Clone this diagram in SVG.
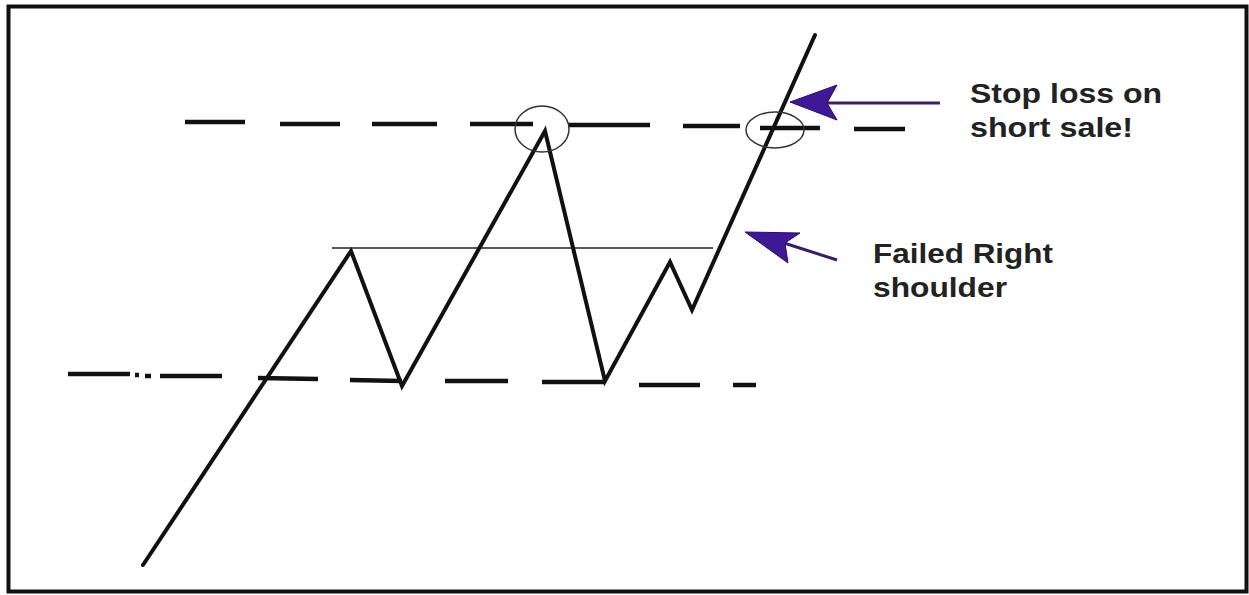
<svg xmlns="http://www.w3.org/2000/svg" width="1249" height="595" viewBox="0 0 1249 595">
<style>
.price{fill:none;stroke:#111;stroke-width:4;stroke-linejoin:miter;stroke-linecap:round}
.dash{stroke:#111;stroke-width:4.5;stroke-linecap:butt}
.thin{stroke:#222;stroke-width:1.5}
.circ{fill:none;stroke:#333;stroke-width:1.5}
.lbl{font-family:"Liberation Sans",Arial,sans-serif;font-weight:bold;font-size:28px;fill:#222}
.head{fill:#3f1896;stroke:#2a1060;stroke-width:1}
.shaft{stroke:#3a1f66;stroke-width:3}
</style>
<rect x="8.5" y="6.5" width="1238" height="585" fill="#fff" stroke="#111" stroke-width="4"/>
<g id="support-line">
<line class="dash" x1="68" y1="374" x2="130" y2="374"/>
<line class="dash" x1="135" y1="375" x2="139" y2="375"/>
<line class="dash" x1="145" y1="376" x2="151" y2="376"/>
<line class="dash" x1="160" y1="376" x2="222" y2="376"/>
<line class="dash" x1="258" y1="378" x2="318" y2="379"/>
<line class="dash" x1="350" y1="380" x2="402" y2="381"/>
<line class="dash" x1="445" y1="381" x2="508" y2="381"/>
<line class="dash" x1="542" y1="382" x2="605" y2="382"/>
<line class="dash" x1="639" y1="385" x2="700" y2="385"/>
<line class="dash" x1="733" y1="385" x2="756" y2="385"/>
</g>
<g id="resistance-line">
<line class="dash" x1="185" y1="122" x2="245" y2="122"/>
<line class="dash" x1="280" y1="124" x2="340" y2="124"/>
<line class="dash" x1="372" y1="124" x2="437" y2="124"/>
<line class="dash" x1="470" y1="124" x2="533" y2="124"/>
<line class="dash" x1="568" y1="125" x2="650" y2="125"/>
<line class="dash" x1="683" y1="126" x2="740" y2="126"/>
<line class="dash" x1="760" y1="128" x2="820" y2="128"/>
<line class="dash" x1="854" y1="129" x2="905" y2="129"/>
</g>
<g id="neckline">
<line class="thin" x1="332" y1="248" x2="713" y2="248"/>
</g>
<g id="price">
<polyline class="price" points="143,565 351,251 402,386 545,131 605,381 670,262 692,310 815,35"/>
</g>
<g id="circles">
<ellipse class="circ" cx="542" cy="129" rx="27" ry="23"/>
<ellipse class="circ" cx="775" cy="130" rx="29" ry="18"/>
</g>
<g id="connectors">
<line class="shaft" x1="825" y1="103" x2="940" y2="103"/>
<polygon class="head" points="790,102 837,85 827,103 837,120"/>
<line class="shaft" x1="784" y1="243" x2="837" y2="260"/>
<polygon class="head" points="745,232 800,233 785,243 788,263"/>
</g>
<g id="label-stop">
<text class="lbl" x="970" y="103" textLength="192" lengthAdjust="spacingAndGlyphs">Stop loss on</text>
<text class="lbl" x="970" y="137" textLength="163" lengthAdjust="spacingAndGlyphs">short sale!</text>
</g>
<g id="label-failed">
<text class="lbl" x="873" y="263" textLength="180" lengthAdjust="spacingAndGlyphs">Failed Right</text>
<text class="lbl" x="873" y="297" textLength="134" lengthAdjust="spacingAndGlyphs">shoulder</text>
</g>
</svg>
